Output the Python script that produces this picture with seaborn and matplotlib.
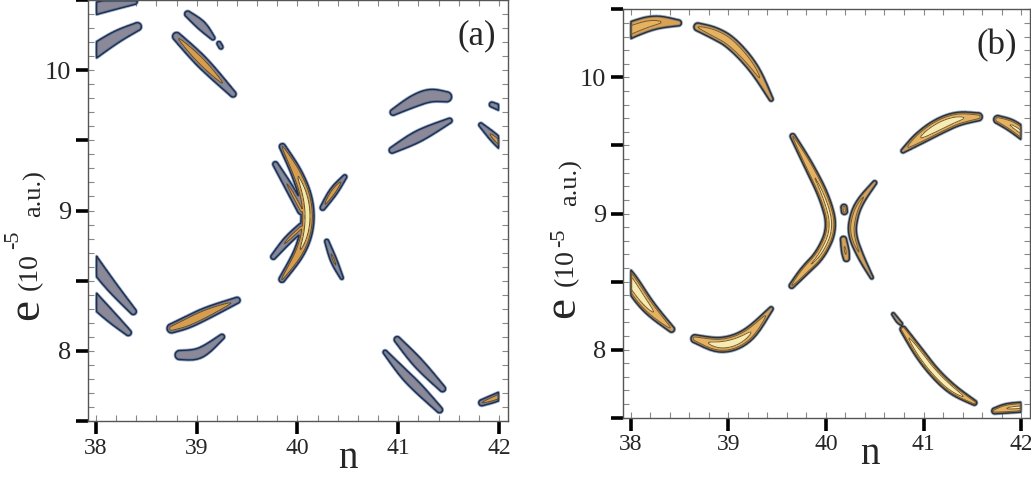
import numpy as np
import matplotlib
matplotlib.use("Agg")
import matplotlib.pyplot as plt
import seaborn as sns
from matplotlib.ticker import FixedLocator, MultipleLocator, FuncFormatter

# axis ranges and ticks
n_range = (38.0, 42.0)
e_range = (7.5, 10.5)
n_ticks = [38, 39, 40, 41, 42]
e_major = [7.5, 8.0, 8.5, 9.0, 9.5, 10.0, 10.5]
e_labeled = [8, 9, 10]

# panel (a): ridge centerlines (n, e), half widths (px) and peak heights
a_ridges = [
    [(37.9, 10.42), (38.1, 10.46), (38.38, 10.49)],
    [(37.95, 10.12), (38.2, 10.24), (38.41, 10.31)],
    [(38.91, 10.40), (39.05, 10.32), (39.16, 10.23)],
    [(39.22, 10.19), (39.24, 10.165)],
    [(38.80, 10.24), (39.05, 10.06), (39.36, 9.83)],
    [(40.95, 9.70), (41.15, 9.78), (41.32, 9.825), (41.48, 9.81)],
    [(40.94, 9.43), (41.2, 9.53), (41.51, 9.64)],
    [(41.93, 9.755), (42.05, 9.72)],
    [(41.82, 9.61), (41.95, 9.52), (42.05, 9.45)],
    [(39.85, 9.455), (39.995, 9.269), (40.094, 9.076), (40.104, 8.88), (40.025, 8.70), (39.846, 8.51)],
    [(39.78, 9.33), (39.93, 9.15), (40.04, 9.00)],
    [(40.04, 8.88), (39.90, 8.79), (39.76, 8.67)],
    [(40.25, 9.02), (40.36, 9.14), (40.47, 9.24)],
    [(40.29, 8.78), (40.36, 8.64), (40.44, 8.52)],
    [(37.95, 8.65), (38.15, 8.46), (38.37, 8.28)],
    [(37.95, 8.38), (38.15, 8.24), (38.32, 8.13)],
    [(38.75, 8.16), (38.9, 8.20), (39.10, 8.27), (39.40, 8.36)],
    [(38.83, 7.97), (39.03, 7.97), (39.25, 8.10)],
    [(40.87, 7.99), (41.05, 7.84), (41.19, 7.74), (41.41, 7.58)],
    [(40.99, 8.08), (41.2, 7.91), (41.44, 7.73)],
    [(41.83, 7.63), (41.95, 7.66), (42.05, 7.69)],
]
a_widths = [
    [6, 6, 3], [7, 6, 4], [3, 5, 2], [2, 2], [4, 6.5, 3],
    [3, 6, 6.5, 5], [3, 6.5, 2.5], [2.5, 3], [2, 4.5, 4.5],
    [3, 5.5, 6.5, 6.5, 5.5, 3], [2.5, 4, 4], [4, 4, 2.5], [2.5, 4.5, 2], [2, 3.5, 1.5],
    [6.5, 5.5, 3], [7, 5.5, 3], [4.5, 6, 6, 3], [4.5, 5.5, 2.5],
    [2, 4.5, 5, 3], [3, 5.5, 3], [3, 4, 4],
]
a_peaks = [0.35, 0.35, 0.35, 0.35, 0.7, 0.35, 0.35, 0.35, 0.55,
           1.0, 0.5, 0.5, 0.7, 0.55, 0.35, 0.35, 0.75, 0.35, 0.35, 0.35, 0.6]

# panel (b)
b_ridges = [
    [(37.9, 10.31), (38.0, 10.35), (38.25, 10.41), (38.49, 10.40)],
    [(38.69, 10.37), (38.85, 10.33), (39.03, 10.26), (39.27, 10.07), (39.44, 9.84)],
    [(37.9, 8.58), (37.99, 8.51), (38.18, 8.31), (38.42, 8.15)],
    [(38.66, 8.08), (38.93, 8.02), (39.20, 8.09), (39.44, 8.30)],
    [(39.66, 9.568), (39.82, 9.36), (39.99, 9.116), (40.07, 8.896), (39.95, 8.70), (39.78, 8.579), (39.65, 8.469)],
    [(40.50, 9.226), (40.36, 9.10), (40.29, 8.995), (40.26, 8.85), (40.36, 8.676), (40.47, 8.53)],
    [(40.185, 9.045), (40.19, 9.015)],
    [(40.18, 8.81), (40.20, 8.72), (40.21, 8.67)],
    [(40.79, 9.46), (40.95, 9.55), (41.15, 9.64), (41.35, 9.70), (41.56, 9.71)],
    [(41.76, 9.69), (41.9, 9.65), (42.05, 9.57)],
    [(40.79, 8.15), (40.95, 7.98), (41.11, 7.83), (41.30, 7.70), (41.52, 7.61)],
    [(40.69, 8.26), (40.74, 8.21), (40.77, 8.19)],
    [(41.73, 7.55), (41.85, 7.57), (42.05, 7.58)],
]
b_widths = [
    [8, 8, 7, 3], [4, 6, 6, 5, 2], [8, 8, 7, 3], [4, 8, 7, 2],
    [2.5, 4.5, 5, 5, 5, 4.5, 2.5], [2, 3.5, 4, 4, 3, 1.5], [3, 3], [3, 4, 3],
    [2, 6, 8, 7, 4], [4, 6, 6], [3, 5, 5, 5, 2.5], [1.5, 2, 1.5], [3, 5, 5],
]
b_peaks = [0.55, 0.6, 1.0, 1.0, 0.8, 0.5, 0.45, 0.45, 1.0, 0.8, 1.0, 0.35, 0.8]


def chaikin(arr, iters=3):
    # corner cutting so the drawn ridges bend smoothly
    for _ in range(iters):
        if len(arr) < 3:
            break
        q = 0.75 * arr[:-1] + 0.25 * arr[1:]
        r = 0.25 * arr[:-1] + 0.75 * arr[1:]
        mid = np.empty((2 * len(q), arr.shape[1]))
        mid[0::2] = q
        mid[1::2] = r
        arr = np.vstack([arr[:1], mid[1:-1], arr[-1:]])
    return arr


def ridge_field(N, E, ridges, widths, peaks, sx, sy):
    # height field: parabolic profile around each centerline, in pixel metric
    F = np.full(N.shape, -1.0)
    for pts, ws, pk in zip(ridges, widths, peaks):
        A = chaikin(np.column_stack([np.array(pts), np.array(ws, dtype=float)]))
        wmax = max(ws)
        for i in range(len(A) - 1):
            dx = (A[i + 1, 0] - A[i, 0]) * sx
            dy = (A[i + 1, 1] - A[i, 1]) * sy
            px = (N - A[i, 0]) * sx
            py = (E - A[i, 1]) * sy
            L2 = dx * dx + dy * dy
            t = np.clip((px * dx + py * dy) / max(L2, 1e-9), 0, 1)
            d = np.hypot(px - t * dx, py - t * dy)
            w = A[i, 2] + t * (A[i + 1, 2] - A[i, 2])
            v = pk * (w / wmax) * (1 - (d / w) ** 2)
            F = np.maximum(F, v)
    F[:, 0] = F[:, -1] = -1
    F[0, :] = F[-1, :] = -1
    return F


sns.set_style("white")
plt.rcParams['font.family'] = ['Liberation Serif', 'DejaVu Serif']

W_PX, H_PX = 1031, 478
fig = plt.figure(figsize=(W_PX / 100, H_PX / 100), dpi=100)

ax_a = fig.add_axes([88 / W_PX, 1 - 421 / H_PX, 420 / W_PX, 421 / H_PX])
ax_b = fig.add_axes([622.7 / W_PX, 1 - 417.7 / H_PX, 407.3 / W_PX, 408.4 / H_PX])

n_grid = np.linspace(n_range[0], n_range[1], 701)
e_grid = np.linspace(e_range[0], e_range[1], 551)
N, E = np.meshgrid(n_grid, e_grid)

panels = [
    (ax_a, a_ridges, a_widths, a_peaks, 100.75, 140.0,
     ['#8b8897', '#d69d4f', '#f4e8a4'], [0, 0.45, 0.85, 5], '#2b2d3c', '#5e4a2e'),
    (ax_b, b_ridges, b_widths, b_peaks, 97.75, 136.5,
     ['#dba050', '#e4b262', '#f5ebb3'], [0, 0.4, 0.75, 5], '#3a2e1e', '#7a5a2a'),
]

for ax, ridges, widths, peaks, sx, sy, cols, levels, edge, inner in panels:
    F = ridge_field(N, E, ridges, widths, peaks, sx, sy)
    ax.contourf(N, E, F, levels=levels, colors=cols)
    ax.contour(N, E, F, levels=[0], colors=['#3a6fb5'], linewidths=2.2, alpha=0.6)
    ax.contour(N, E, F, levels=[0], colors=[edge], linewidths=1.0)
    ax.contour(N, E, F, levels=levels[1:3], colors=[inner], linewidths=0.7)

    ax.set_xlim(37.92, 42.09)
    ax.set_ylim(7.5, 10.5)
    ax.xaxis.set_major_locator(FixedLocator(n_ticks))
    ax.xaxis.set_minor_locator(MultipleLocator(0.2))
    ax.yaxis.set_major_locator(FixedLocator(e_major))
    ax.yaxis.set_minor_locator(MultipleLocator(0.1))
    ax.yaxis.set_major_formatter(FuncFormatter(
        lambda v, p: f"{v:.0f}" if any(abs(v - k) < 1e-6 for k in e_labeled) else ""))
    ax.xaxis.remove_overlapping_locs = False
    ax.yaxis.remove_overlapping_locs = False
    ax.tick_params(which='major', direction='out', length=9, width=2.6, color='black',
                   left=True, bottom=True, right=False, top=False, labelsize=19, pad=3)
    ax.tick_params(axis='x', which='major', labelsize=17)
    ax.tick_params(which='minor', direction='in', length=4, width=0.8, color='#888888',
                   left=True, bottom=True, right=True, top=True)
    for sp in ax.spines.values():
        sp.set_visible(True)
        sp.set_color('#555555')
        sp.set_linewidth(1.0)


def ftext(x, y, s, size, **kw):
    fig.text(x / W_PX, 1 - y / H_PX, s, fontsize=size, ha='center', va='center', **kw)


# panel tags
ftext(477, 36, "(a)", 25)
ftext(997, 46, "(b)", 25)

# x labels
ftext(348, 459, "n", 28)
ftext(870, 455, "n", 28)

# y labels built from pieces
for x0, pieces in [
    (0, [(27, 309, "e", 34), (30, 272, "(10", 20), (14, 240, "-5", 16), (35, 194, "a.u.)", 19)]),
    (535, [(28, 308, "e", 34), (31, 268, "(10", 20), (25, 238, "-5", 16), (36, 183, "a.u.)", 19)]),
]:
    for x, y, s, size in pieces:
        ftext(x0 + x, y, s, size, rotation=90)

fig.savefig("out.png", dpi=100)
